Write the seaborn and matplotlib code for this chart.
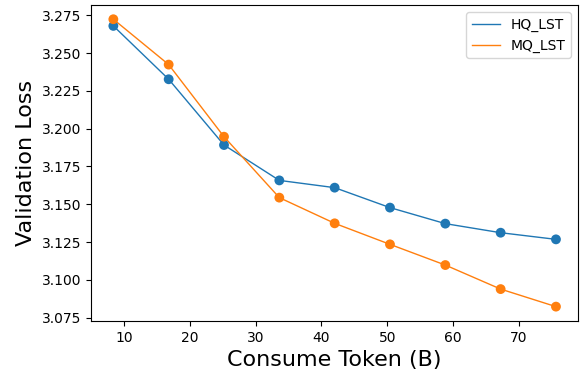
import matplotlib
matplotlib.use("Agg")
import matplotlib.pyplot as plt
import seaborn as sns
import pandas as pd

tokens = [8.4, 16.8, 25.2, 33.6, 42.0, 50.4, 58.8, 67.2, 75.6]
hq_lst = [3.268, 3.2327, 3.1892, 3.1658, 3.161, 3.1478, 3.1372, 3.1312, 3.1268]
mq_lst = [3.2724, 3.2424, 3.1947, 3.1544, 3.1374, 3.1235, 3.1098, 3.0939, 3.0823]
series_names = ["HQ_LST", "MQ_LST"]

df = pd.DataFrame({
    "token": tokens * 2,
    "loss": hq_lst + mq_lst,
    "series": [series_names[0]] * len(tokens) + [series_names[1]] * len(tokens),
})

colors = {"HQ_LST": "#1f77b4", "MQ_LST": "#ff7f0e"}

fig, ax = plt.subplots(figsize=(5.81, 3.75), dpi=100)
fig.subplots_adjust(left=0.157, right=0.995, top=0.987, bottom=0.144)

for name in series_names:
    sub = df[df["series"] == name]
    sns.lineplot(data=sub, x="token", y="loss", color=colors[name], linewidth=1.0,
                 label=name, ax=ax)
    sns.scatterplot(data=sub, x="token", y="loss", color=colors[name], s=50,
                    edgecolor="none", legend=False, ax=ax, zorder=3)

ax.set_xlabel("Consume Token (B)", fontsize=16)
ax.set_ylabel("Validation Loss", fontsize=16)
ax.tick_params(labelsize=10)
ax.yaxis.set_major_formatter(matplotlib.ticker.FormatStrFormatter("%.3f"))
ax.legend(loc="upper right", fontsize=10)

fig.savefig("out.png", dpi=100)
